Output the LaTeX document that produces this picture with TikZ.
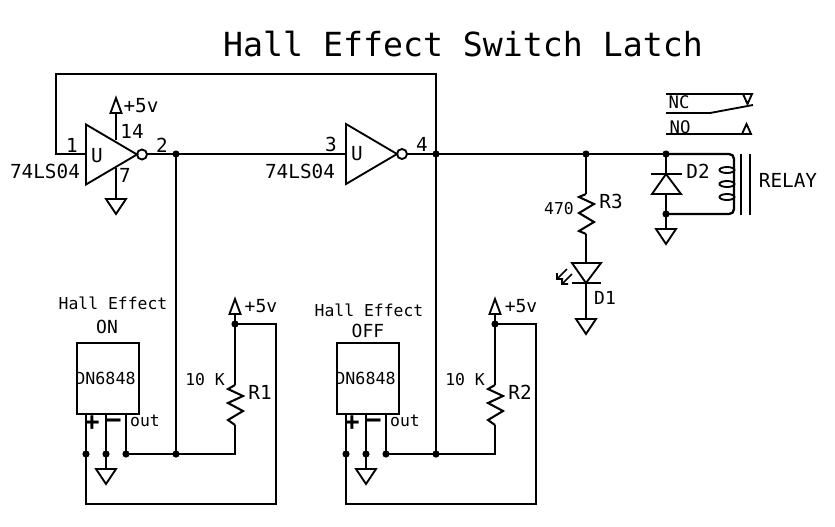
\documentclass[tikz,border=0pt]{standalone}
\usepackage{fontspec}
\setmainfont{DejaVu Sans Mono}
\newcommand{\fs}[1]{\fontsize{#1}{#1}\selectfont}
\tikzset{
  wire/.style={line width=1.75pt,line join=miter},
  sym/.style={line width=1.4pt,line join=miter},
  junction/.style={circle,fill=black,inner sep=0pt,minimum size=5.4pt},
  lab/.style={inner sep=0pt,text=black},
  big/.style={lab,font=\fs{14.5}},
  small/.style={lab,font=\fs{12.3}},
  gndsym/.pic={\draw[sym] (-10,0)--(10,0)--(0,15)--cycle;},
  vccsym/.pic={\draw[sym] (-5.5,0)--(5.5,0)--(0,-15)--cycle;},
  invsym/.pic={\draw[sym] (0,-30)--(0,30)--(51,0)--cycle;
               \draw[sym] (56,0) circle (5);},
  zigzag/.style={line width=1.55pt,line join=miter}
}
\begin{document}
\begin{tikzpicture}[x=0.75pt,y=-0.75pt]
\path[use as bounding box,fill=white] (0,0) rectangle (835,526);
% title
\node[lab,font=\fs{24.9}] (title) at (463,44) {Hall Effect Switch Latch};

% ---------- inverters ----------
\pic (inva) at (86,154.5) {invsym};
\pic (invb) at (346,154) {invsym};
\coordinate (aIn) at (85,154);
\coordinate (aOut) at (147,154);
\coordinate (bIn) at (345,154);
\coordinate (bOut) at (407,154);
\node[junction] (j2) at (176,154) {};
\node[junction] (j4) at (436,154) {};
\node[junction] (jR3) at (586,154) {};
\node[junction] (jD2) at (666,154) {};
\coordinate (fbA) at (56,154);
\coordinate (fbB) at (56,74);
\coordinate (fbC) at (436,74);
\draw[wire] (aIn) -- (fbA) -- (fbB) -- (fbC) -- (j4.center);
\draw[wire] (aOut) -- (j2.center) -- (bIn);
\draw[wire] (bOut) -- (j4.center) -- (jR3.center) -- (jD2.center);

% inverter supply
\coordinate (vccA) at (116,113);
\coordinate (vccAp) at (116,140);
\coordinate (gndA) at (116,199);
\coordinate (gndAp) at (116,168);
\draw[wire] (vccA) -- (vccAp);
\draw[wire] (gndAp) -- (gndA);
\pic (vccApic) at (vccA) {vccsym};
\pic (gndApic) at (gndA) {gndsym};

\node[big] (tOne) at (72,145) {1};
\node[big] (tTwo) at (162,145) {2};
\node[big] (tFourteen) at (132,131) {14};
\node[big] (tVccA) at (141,106) {+5v};
\node[big] (tUa) at (97,156) {U};
\node[big] (tSeven) at (125,175) {7};
\node[big] (tChipA) at (45,171) {74LS04};
\node[big] (tThree) at (331,144) {3};
\node[big] (tFour) at (422,144) {4};
\node[big] (tUb) at (357,154) {U};
\node[big] (tChipB) at (300,171) {74LS04};

% ---------- R3 + D1 ----------
\coordinate (r3t) at (586,194);
\coordinate (r3b) at (586,234);
\coordinate (d1t) at (586,263);
\coordinate (d1k) at (586,283);
\coordinate (gndD1) at (586,319);
\draw[wire] (jR3.center) -- (r3t);
\draw[zigzag] (r3t) -- (579,197) -- (594,204) -- (579,213) -- (594,222) -- (579,231) -- (r3b);
\draw[wire] (r3b) -- (d1t);
\draw[sym] (572,263) -- (601,263) -- (d1k) -- cycle;
\draw[sym] (572,283) -- (601,283);
\draw[wire] (d1k) -- (gndD1);
\pic (gndD1pic) at (gndD1) {gndsym};
\coordinate (ledA) at (567,269);
\coordinate (ledAe) at (557,279);
\coordinate (ledB) at (572,274);
\coordinate (ledBe) at (562,284);
\draw[line width=1.2pt] (ledA) -- (ledAe) (557,273) -- (ledAe) -- (563,279);
\draw[line width=1.2pt] (ledB) -- (ledBe) (562,278) -- (ledBe) -- (568,284);
\node[small] (tR3val) at (559,209) {470};
\node[big] (tR3) at (611,201) {R3};
\node[big,font=\fs{13.5}] (tD1) at (605,298) {D1};

% ---------- D2 + relay ----------
\coordinate (d2c) at (666,174);
\coordinate (d2a) at (666,194);
\node[junction] (jD2b) at (666,214) {};
\coordinate (gndD2) at (666,229);
\coordinate (cTop) at (734,159);
\coordinate (cBot) at (734,209);
\draw[wire] (jD2.center) -- (d2c);
\draw[wire] (d2a) -- (jD2b.center) -- (gndD2);
\draw[sym] (651,174) -- (682,174);
\draw[sym] (d2c) -- (681,194) -- (652,194) -- cycle;
\pic (gndD2pic) at (gndD2) {gndsym};
\draw[wire] (jD2.center) -- (729,154) .. controls (732,154) and (734,156) .. (cTop) -- (cBot)
   .. controls (734,212) and (732,214) .. (729,214) -- (jD2b.center);
\draw[sym] (727,170) ellipse (7.5 and 3);
\draw[sym] (727,184) ellipse (7.5 and 3);
\draw[sym] (727,197) ellipse (7.5 and 3);
\coordinate (coreAt) at (741,154); \coordinate (coreAb) at (741,215);
\coordinate (coreBt) at (750,154); \coordinate (coreBb) at (750,215);
\draw[wire] (coreAt) -- (coreAb);
\draw[wire] (coreBt) -- (coreBb);
\node[big] (tD2) at (698,171) {D2};
\node[big] (tRelay) at (788,180) {RELAY};

% contacts
\coordinate (ncL) at (666,94); \coordinate (ncR) at (752,94);
\coordinate (noL) at (666,134); \coordinate (noR) at (752,134);
\coordinate (armL) at (666,113); \coordinate (armM) at (710,113); \coordinate (armR) at (753,105);
\draw[sym] (ncL) -- (ncR);
\draw[sym] (noL) -- (noR);
\draw[sym] (armL) -- (armM) -- (armR);
\draw[sym] (743,94) -- (752,94) -- (747.5,104) -- cycle;
\draw[sym] (742,134) -- (751,134) -- (746.5,124) -- cycle;
\node[lab,font=\fs{13}] (tNC) at (679,102) {NC};
\node[lab,font=\fs{13}] (tNO) at (680,127) {NO};

% ---------- Hall sensors ----------
\foreach \dx/\n/\rr/\ttl/\ty/\ox/\oy/\lbl in {0/a/R1/113/303/107/327/ON, 260/b/R2/109/310/108/331/OFF}{
  \begin{scope}[shift={(\dx,0)}]
    \node[draw,line width=1.4pt,minimum width=46.5pt,minimum height=53.25pt,inner sep=0pt,anchor=north west] (hall\n) at (76,342) {};
    \node[lab,font=\fs{12.5}] (chip\n) at (105.5,378) {DN6848};
    \node[small] (ttl\n) at (\ttl,\ty) {Hall Effect};
    \node[lab,font=\fs{13.5}] (state\n) at (\ox,\oy) {\lbl};
    \node[junction] (p\n) at (86,454) {};
    \node[junction] (m\n) at (106,454) {};
    \node[junction] (o\n) at (126,454) {};
    \node[junction] (r\n) at (176,454) {};
    \node[junction] (v\n) at (235,324) {};
    \coordinate (tp\n) at (86,413); \coordinate (tm\n) at (106,413); \coordinate (to\n) at (126,413);
    \coordinate (bl\n) at (86,504); \coordinate (br\n) at (276,504); \coordinate (tr\n) at (276,324);
    \coordinate (gnd\n) at (106,469);
    \coordinate (rt\n) at (235,385); \coordinate (rb\n) at (235,425); \coordinate (rc\n) at (235,454);
    \coordinate (vt\n) at (235,314);
    \draw[wire] (tp\n) -- (p\n.center) -- (bl\n) -- (br\n) -- (tr\n) -- (v\n.center) -- (vt\n);
    \draw[wire] (tm\n) -- (m\n.center) -- (gnd\n);
    \draw[wire] (to\n) -- (o\n.center) -- (r\n.center) -- (rc\n) -- (rb\n);
    \draw[wire] (v\n.center) -- (rt\n);
    \draw[zigzag] (rt\n) -- (228,389) -- (243,396) -- (228,403) -- (243,411) -- (228,420) -- (rb\n);
    \pic at (gnd\n) {gndsym};
    \pic at (vt\n) {vccsym};
    \node[lab,font=\fs{13.5}] (vl\n) at (261,306) {+5v};
    \node[lab,font=\fs{19}\bfseries] (plus\n) at (92,423) {+};
    \node[lab,font=\fs{19}\bfseries] (minus\n) at (113,423) {–};
    \node[small] (out\n) at (145,421) {out};
    \node[small] (kv\n) at (205,380) {10 K};
    \node[big] (rl\n) at (260,392) {\rr};
  \end{scope}
}
\draw[wire] (j2.center) -- (ra.center);
\draw[wire] (j4.center) -- (rb.center);
\end{tikzpicture}
\end{document}
